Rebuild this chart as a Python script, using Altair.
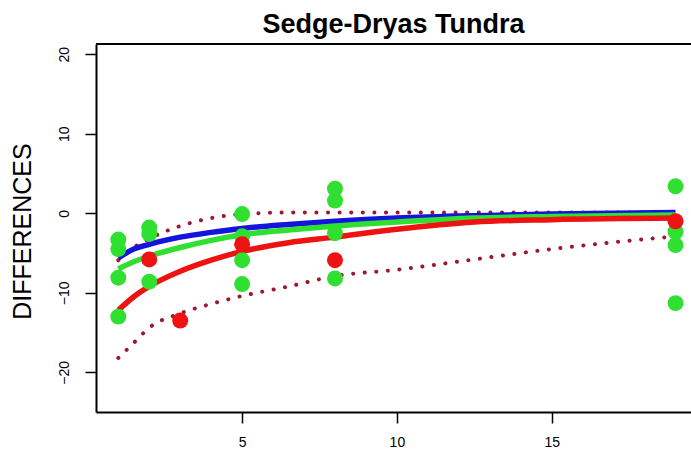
import altair as alt
import pandas as pd

# ---- data ----
green_x = [1, 1, 1, 1, 2, 2, 2, 5, 5, 5, 5, 8, 8, 8, 8, 19, 19, 19, 19]
green_y = [-3.3, -4.5, -8.1, -13.0, -1.8, -2.6, -8.6, -0.1, -2.9, -5.9, -8.9,
           3.1, 1.6, -2.5, -8.2, 3.4, -2.3, -4.0, -11.3]
red_x = [2, 3, 5, 8, 19]
red_y = [-5.8, -13.5, -3.9, -5.9, -1.0]

curve_x = [1, 1.5, 2, 3, 4, 5, 6.5, 8, 10, 12.5, 15, 19]
blue_fit = [-5.6, -4.5, -3.9, -3.0, -2.4, -1.9, -1.4, -1.0, -0.6, -0.3, -0.1, 0.1]
green_fit = [-7.0, -6.1, -5.4, -4.3, -3.4, -2.7, -2.1, -1.6, -1.1, -0.6, -0.4, -0.2]
red_fit = [-12.2, -10.5, -9.2, -7.3, -5.9, -4.8, -3.7, -3.0, -2.0, -1.1, -0.8, -0.6]
red_upper = [-5.9, -4.3, -3.2, -1.6, -0.6, -0.1, 0.1, 0.1, 0.1, 0.1, 0.1, 0.1]
red_lower = [-18.2, -16.3, -14.4, -12.6, -11.4, -10.4, -9.2, -7.9, -7.1, -5.8, -4.5, -2.9]

y_ticks = [-20, -10, 0, 10, 20]
x_ticks = [5, 10, 15]

GREEN = "#30e030"
RED = "#ee1212"
BLUE = "#1414dc"
DOT = "#9a1a2c"

W, H = 595, 368
xs = alt.Scale(domain=[0.28, 19.5], nice=False, zero=False)
ys = alt.Scale(domain=[-25.0, 21.3], nice=False, zero=False)

x_axis = alt.Axis(values=x_ticks, grid=False, title=None, domainColor="black",
                  domainWidth=2, tickColor="black", tickWidth=1.5, tickSize=11,
                  labelFont="Liberation Sans", labelFontSize=14, labelColor="black",
                  labelPadding=12)
y_axis = alt.Axis(values=y_ticks, grid=False, title="DIFFERENCES", domainColor="black",
                  domainWidth=2, tickColor="black", tickWidth=1.5, tickSize=11,
                  labelFont="Liberation Sans", labelFontSize=14, labelColor="black",
                  labelAngle=270, labelAlign="center", labelBaseline="alphabetic",
                  labelPadding=17,
                  titleFont="Liberation Sans", titleFontSize=25, titleFontWeight="normal",
                  titleColor="black", titleAngle=270, titleAlign="center",
                  titleBaseline="middle", titleX=-74, titleY=187)


def enc_x():
    return alt.X("x:Q", scale=xs, axis=x_axis)


def enc_y():
    return alt.Y("y:Q", scale=ys, axis=y_axis)


def line_layer(vals, color, width, dash=None):
    kw = dict(color=color, strokeWidth=width, interpolate="monotone", clip=True)
    if dash is not None:
        kw.update(strokeDash=dash, strokeCap="round")
    df = pd.DataFrame({"x": curve_x, "y": vals})
    return alt.Chart(df).mark_line(**kw).encode(x=enc_x(), y=enc_y())


lower = line_layer(red_lower, DOT, 4, dash=[0.1, 11.5])
upper = line_layer(red_upper, DOT, 4, dash=[0.1, 11.5])
blue = line_layer(blue_fit, BLUE, 5.5)
green = line_layer(green_fit, GREEN, 5.5)
red = line_layer(red_fit, RED, 5.5)

gpts = alt.Chart(pd.DataFrame({"x": green_x, "y": green_y})).mark_circle(
    color=GREEN, opacity=1, size=255).encode(x=enc_x(), y=enc_y())
rpts = alt.Chart(pd.DataFrame({"x": red_x, "y": red_y})).mark_circle(
    color=RED, opacity=1, size=255).encode(x=enc_x(), y=enc_y())

top_line = alt.Chart(pd.DataFrame({"a": [0]})).mark_rule(
    color="black", strokeWidth=2).encode(
    x=alt.value(0), x2=alt.value(W), y=alt.value(0))

chart = alt.layer(lower, upper, blue, green, red, gpts, rpts, top_line).properties(
    width=W, height=H,
    title=alt.TitleParams("Sedge-Dryas Tundra", font="Liberation Sans", fontSize=27,
                          fontWeight="bold", color="black", anchor="middle",
                          frame="group", baseline="bottom", offset=8, dy=31),
    autosize=alt.AutoSizeParams(type="none"),
    padding={"left": 96, "top": 44, "right": 0, "bottom": 48},
).configure(background="white").configure_view(stroke=None)

chart.save("out.html", embed_options={"renderer": "svg", "actions": False})
